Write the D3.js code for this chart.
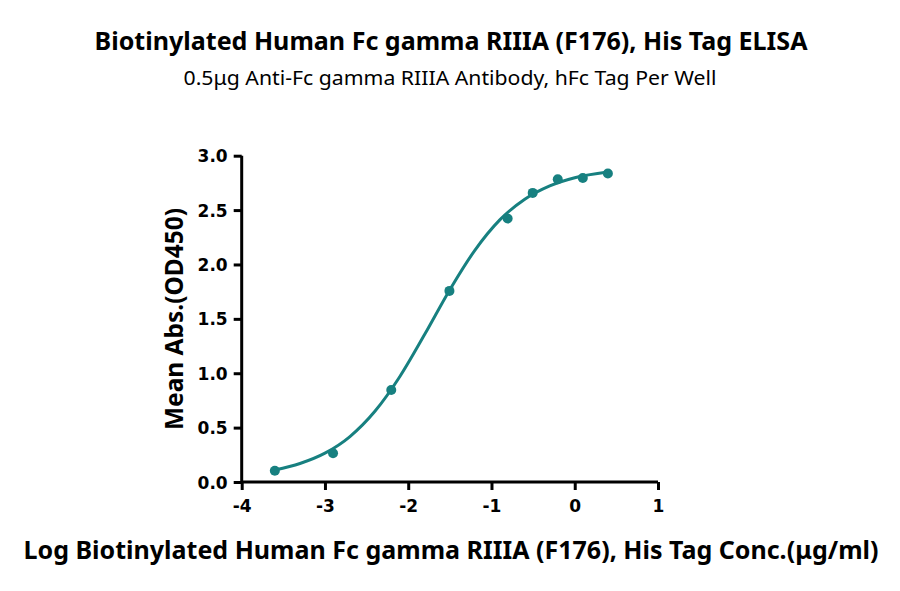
<!DOCTYPE html>
<html>
<head>
<meta charset="utf-8">
<script src="https://cdn.jsdelivr.net/npm/d3@7"></script>
<style>
  body { margin: 0; background: #fff; }
  .tick text { font-family: "DejaVu Sans", sans-serif; font-weight: bold; font-size: 17px; fill: #000; }
</style>
</head>
<body>
<div id="chart-area"></div>
<script>
// measured points: log concentration (ug/ml) vs mean OD450
var logConc = [-3.602, -2.903, -2.204, -1.505, -0.806, -0.505, -0.204, 0.097, 0.398];
var meanAbs = [0.104, 0.265, 0.846, 1.757, 2.423, 2.658, 2.784, 2.795, 2.837];

// fitted curve as it is drawn in the picture
var fitX = [-3.602, -3.3, -3.0, -2.7, -2.4, -2.1, -1.8, -1.5, -1.2, -0.9, -0.6, -0.3, 0.0, 0.398];
var fitY = [0.110, 0.170, 0.265, 0.418, 0.650, 0.970, 1.360, 1.768, 2.130, 2.410, 2.600, 2.722, 2.797, 2.850];

var xTicks = [-4, -3, -2, -1, 0, 1];
var yTicks = [0.0, 0.5, 1.0, 1.5, 2.0, 2.5, 3.0];

var width = 900, height = 591;
var teal = "#178080";

var svg = d3.select("#chart-area")
    .append("svg")
        .attr("width", width)
        .attr("height", height);

// scales
var x = d3.scaleLinear()
    .domain([-4, 1])
    .range([241.7, 658]);
var y = d3.scaleLinear()
    .domain([0, 3])
    .range([482, 155.7]);

// titles
svg.append("text")
    .attr("x", 451)
    .attr("y", 50)
    .attr("text-anchor", "middle")
    .attr("font-family", "Noto Sans, sans-serif")
    .attr("font-weight", "bold")
    .attr("font-size", "25px")
    .attr("textLength", 713)
    .attr("lengthAdjust", "spacingAndGlyphs")
    .text("Biotinylated Human Fc gamma RIIIA (F176), His Tag ELISA");

svg.append("text")
    .attr("x", 450)
    .attr("y", 85)
    .attr("text-anchor", "middle")
    .attr("font-family", "Noto Sans, sans-serif")
    .attr("font-size", "20px")
    .attr("textLength", 533)
    .attr("lengthAdjust", "spacingAndGlyphs")
    .text("0.5μg Anti-Fc gamma RIIIA Antibody, hFc Tag Per Well");

// axis labels
svg.append("text")
    .attr("x", 451)
    .attr("y", 559)
    .attr("text-anchor", "middle")
    .attr("font-family", "Noto Sans, sans-serif")
    .attr("font-weight", "bold")
    .attr("font-size", "25px")
    .attr("textLength", 855)
    .attr("lengthAdjust", "spacingAndGlyphs")
    .text("Log Biotinylated Human Fc gamma RIIIA (F176), His Tag Conc.(μg/ml)");

svg.append("text")
    .attr("transform", "translate(183, 319) rotate(-90)")
    .attr("text-anchor", "middle")
    .attr("font-family", "Noto Sans, sans-serif")
    .attr("font-weight", "bold")
    .attr("font-size", "25px")
    .attr("textLength", 222)
    .attr("lengthAdjust", "spacingAndGlyphs")
    .text("Mean Abs.(OD450)");

// axes
var xAxisCall = d3.axisBottom(x)
    .tickValues(xTicks)
    .tickSize(8)
    .tickPadding(10)
    .tickFormat(d3.format("d"));
var yAxisCall = d3.axisLeft(y)
    .tickValues(yTicks)
    .tickSize(8)
    .tickPadding(6)
    .tickFormat(d3.format(".1f"));

var xg = svg.append("g")
    .attr("class", "BottomAxis")
    .attr("transform", "translate(0, " + y(0) + ")")
    .call(xAxisCall);
var yg = svg.append("g")
    .attr("class", "LeftAxis")
    .attr("transform", "translate(" + x(-4) + ", 0)")
    .call(yAxisCall);

[xg, yg].forEach(function(a) {
    a.select(".domain")
        .attr("d", a === xg ? "M" + x(-4) + ",0H" + x(1) : "M0," + y(3) + "V" + y(0))
        .attr("stroke", "#000")
        .attr("stroke-width", 3);
    a.selectAll(".tick line").attr("stroke", "#000").attr("stroke-width", 3);
    a.selectAll(".tick text").attr("fill", "#000");
});
yg.selectAll(".tick text").attr("dy", "0.36em");
xg.selectAll(".tick text").text(function(d) { return d < 0 ? "-" + Math.abs(d) : d; });

// fitted curve
var fitData = fitX.map(function(v, i) { return { x: v, y: fitY[i] }; });
var line = d3.line()
    .x(function(d) { return x(d.x); })
    .y(function(d) { return y(d.y); })
    .curve(d3.curveMonotoneX);

svg.append("path")
    .datum(fitData)
    .attr("fill", "none")
    .attr("stroke", teal)
    .attr("stroke-width", 3)
    .attr("d", line);

// points
var points = logConc.map(function(v, i) { return { x: v, y: meanAbs[i] }; });
svg.selectAll("circle")
    .data(points)
    .enter()
    .append("circle")
    .attr("cx", function(d) { return x(d.x); })
    .attr("cy", function(d) { return y(d.y); })
    .attr("r", 5)
    .attr("fill", teal);
</script>
</body>
</html>
